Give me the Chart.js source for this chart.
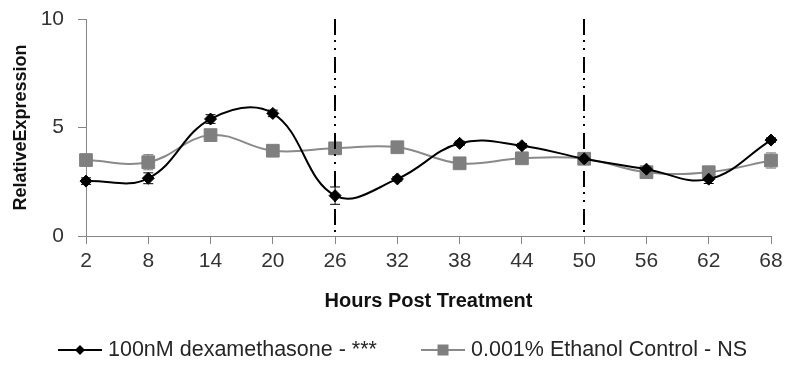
<!DOCTYPE html>
<html>
<head>
<meta charset="utf-8">
<script src="https://cdn.jsdelivr.net/npm/chart.js@4/dist/chart.umd.min.js"></script>
<style>
  html, body { margin: 0; padding: 0; background: #fff; }
  #wrap { width: 785px; height: 367px; }
</style>
</head>
<body>
<div id="wrap"><canvas id="chart"></canvas></div>
<script>
// hours after treatment (category axis)
var hours = ['2', '8', '14', '20', '26', '32', '38', '44', '50', '56', '62', '68'];

// relative expression, 100nM dexamethasone
var dexValues = [2.53, 2.66, 5.39, 5.65, 1.86, 2.63, 4.27, 4.16, 3.56, 3.08, 2.62, 4.42];
var dexErrors = [0.15, 0.25, 0.2, 0.15, 0.4, 0.1, 0.1, 0.1, 0.1, 0.1, 0.2, 0.1];

// relative expression, ethanol vehicle control
var ethValues = [3.50, 3.40, 4.65, 3.93, 4.04, 4.09, 3.35, 3.58, 3.56, 2.94, 2.94, 3.48];
var ethErrors = [0.15, 0.35, 0.15, 0.1, 0.1, 0.1, 0.1, 0.1, 0.1, 0.1, 0.1, 0.35];

// hours where the dash-dot-dot marker lines go
var markerHours = ['26', '50'];

var yTicks = [0, 5, 10];
var legendLabels = ['100nM dexamethasone - ***', '0.001% Ethanol Control - NS'];

var FONT = "'Liberation Sans Narrow', 'Liberation Sans', sans-serif";
var AXIS_GREY = '#868686';
var ETH_GREY = '#8a8a8a';

// vertical error bars, drawn under the lines and markers
var errorBars = {
  id: 'errorBars',
  beforeDatasetsDraw: function(chart) {
    var ctx = chart.ctx;
    var y = chart.scales.y;
    chart.data.datasets.forEach(function(ds, di) {
      var meta = chart.getDatasetMeta(di);
      ctx.save();
      ctx.strokeStyle = ds.errColor;
      ctx.lineWidth = 1;
      meta.data.forEach(function(pt, i) {
        var v = ds.data[i], e = ds.errors[i];
        var top = y.getPixelForValue(v + e);
        var bot = y.getPixelForValue(v - e);
        ctx.beginPath();
        ctx.moveTo(pt.x, top); ctx.lineTo(pt.x, bot);
        ctx.moveTo(pt.x - 5, top); ctx.lineTo(pt.x + 5, top);
        ctx.moveTo(pt.x - 5, bot); ctx.lineTo(pt.x + 5, bot);
        ctx.stroke();
      });
      ctx.restore();
    });
  }
};

// dash-dot-dot lines at the chosen hours
var markerLines = {
  id: 'markerLines',
  afterDatasetsDraw: function(chart) {
    var ctx = chart.ctx;
    var area = chart.chartArea;
    var x = chart.scales.x;
    ctx.save();
    ctx.strokeStyle = '#000';
    ctx.lineWidth = 2;
    ctx.setLineDash([16, 5, 2, 6, 2, 7]);
    markerHours.forEach(function(h) {
      var px = Math.round(x.getPixelForValue(hours.indexOf(h)));
      ctx.beginPath();
      ctx.moveTo(px, area.top);
      ctx.lineTo(px, area.bottom);
      ctx.stroke();
    });
    ctx.restore();
  }
};

// line + marker legend along the bottom
var lineLegend = {
  id: 'lineLegend',
  afterDraw: function(chart) {
    var ctx = chart.ctx;
    var ly = 350;
    var starts = [58, 421];
    ctx.save();
    chart.data.datasets.forEach(function(ds, di) {
      var x0 = starts[di];
      ctx.strokeStyle = ds.borderColor;
      ctx.lineWidth = 2;
      ctx.beginPath();
      ctx.moveTo(x0, ly); ctx.lineTo(x0 + 44, ly);
      ctx.stroke();
      ctx.fillStyle = ds.pointBackgroundColor;
      ctx.beginPath();
      if (ds.pointStyle === 'rectRot') {
        ctx.moveTo(x0 + 22 - 5, ly); ctx.lineTo(x0 + 22, ly - 5);
        ctx.lineTo(x0 + 27, ly); ctx.lineTo(x0 + 22, ly + 5);
        ctx.closePath();
      } else {
        ctx.rect(x0 + 22 - 5.5, ly - 5.5, 11, 11);
      }
      ctx.fill();
      ctx.fillStyle = '#262626';
      ctx.font = '21.5px ' + FONT;
      ctx.textBaseline = 'middle';
      ctx.fillText(legendLabels[di], x0 + 50, ly);
    });
    ctx.restore();
  }
};

new Chart(document.getElementById('chart'), {
  type: 'line',
  data: {
    labels: hours,
    datasets: [
      {
        label: legendLabels[0],
        data: dexValues,
        errors: dexErrors,
        errColor: '#000',
        borderColor: '#000',
        borderWidth: 2,
        pointStyle: 'rectRot',
        pointRadius: 6,
        pointBackgroundColor: '#000',
        pointBorderColor: '#000',
        pointBorderWidth: 1,
        tension: 0.4,
        order: 0
      },
      {
        label: legendLabels[1],
        data: ethValues,
        errors: ethErrors,
        errColor: '#7a7a7a',
        borderColor: ETH_GREY,
        borderWidth: 2,
        pointStyle: 'rect',
        pointRadius: 9,
        pointBackgroundColor: '#7f7f7f',
        pointBorderColor: '#7f7f7f',
        pointBorderWidth: 1,
        tension: 0.4,
        order: 1
      }
    ]
  },
  options: {
    responsive: true,
    maintainAspectRatio: false,
    animation: false,
    layout: { padding: { top: 19, right: 14, bottom: 0, left: 0 } },
    plugins: {
      legend: { display: false },
      tooltip: { enabled: false }
    },
    scales: {
      x: {
        type: 'category',
        offset: false,
        border: { color: AXIS_GREY, width: 1 },
        grid: { display: true, drawOnChartArea: false, drawTicks: true, tickLength: 8, color: AXIS_GREY },
        ticks: { color: '#333', padding: 5, maxRotation: 0, font: { family: FONT, size: 21 } },
        title: {
          display: true,
          text: 'Hours Post Treatment',
          color: '#111',
          font: { family: FONT, size: 20, weight: 'bold' },
          padding: { top: 4, bottom: 54 }
        },
        afterFit: function(scale) {
          scale.height = 131;
          scale.paddingLeft = 0;
          scale.paddingRight = 0;
        }
      },
      y: {
        min: 0,
        max: 10,
        border: { color: AXIS_GREY, width: 1 },
        grid: { display: true, drawOnChartArea: false, drawTicks: true, tickLength: 8, color: AXIS_GREY },
        afterBuildTicks: function(scale) {
          scale.ticks = yTicks.map(function(v) { return { value: v }; });
        },
        ticks: { color: '#333', padding: 14, font: { family: FONT, size: 21 } },
        title: {
          display: true,
          text: 'RelativeExpression',
          color: '#111',
          font: { family: FONT, size: 18, weight: 'bold' },
          padding: { top: 10, bottom: 0 }
        },
        afterFit: function(scale) {
          scale.width = 86;
          scale.paddingTop = 0;
          scale.paddingBottom = 0;
        }
      }
    }
  },
  plugins: [errorBars, markerLines, lineLegend]
});
</script>
</body>
</html>
